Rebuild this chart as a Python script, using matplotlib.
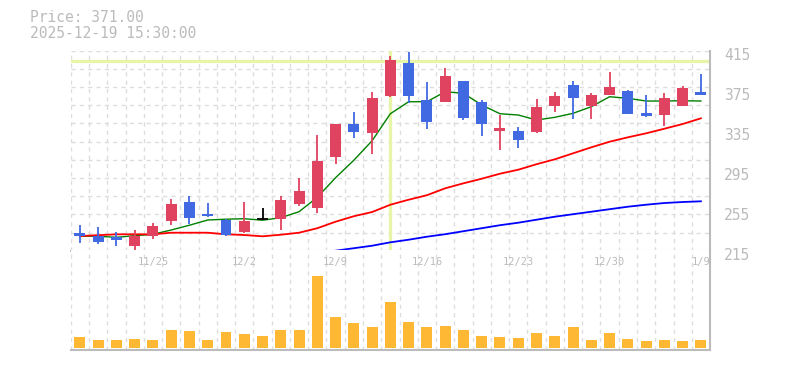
import matplotlib
matplotlib.use('Agg')
import matplotlib.pyplot as plt
import matplotlib.transforms as mtrans
import numpy as np

# daily candles, 11/18 .. 1/9
opens  = [233, 230, 229, 220, 230, 245, 264, 252, 246, 234, 247, 247, 262, 258, 309, 342, 333, 370,
          403, 366, 364, 385, 364, 335, 335, 334, 360, 381, 360, 371, 375, 353, 351, 360, 374]
closes = [230, 224, 226, 230, 240, 262, 248, 250, 231, 245, 247, 266, 275, 305, 342, 334, 368, 406,
          370, 344, 390, 348, 342, 338, 326, 359, 370, 368, 371, 379, 352, 350, 368, 378, 371]
highs  = [240.7, 238.7, 233.7, 235.7, 243, 266.7, 269.7, 262.7, 246.7, 263.7, 258, 270, 288, 330.7,
          342, 353.7, 373.4, 409.7, 414, 383.7, 397.7, 385, 365.7, 350.7, 338.4, 366.7, 373.7, 384.7,
          373, 393.7, 375.4, 370.7, 372.7, 379.7, 391.7]
lows   = [223, 222, 220, 216, 227, 241, 241.7, 248.7, 230, 233, 245.4, 236, 260, 253, 302, 328, 311.7,
          369, 363, 337, 363.7, 346, 330, 316, 318, 333, 354, 347, 346.7, 370.7, 352, 349, 340, 360, 370.4]
volumes = [11, 8, 8, 9, 8, 18, 17, 8, 16, 14, 12, 18, 18, 71, 31, 25, 21, 46, 26, 21, 22, 18, 12, 11,
           10, 15, 12, 21, 8, 15, 9, 7, 8, 7, 8]  # thousands

ma5 = [229.7, 229.4, 228.4, 230, 231.4, 235.7, 240.5, 245.7, 246.5, 247, 245.5, 248, 254, 268.5, 288,
       305.5, 325, 352, 364, 364, 374, 372.4, 360.7, 352, 350.7, 345.7, 348.4, 352.4, 359, 369, 367.4,
       364.7, 364.7, 365, 364.7]
ma25 = [229.7, 230.5, 231.4, 231.4, 231.4, 233, 233, 233, 231.4, 230.7, 229.4, 231, 233, 237.5, 244,
        249.5, 253.7, 261, 266, 270.5, 277.4, 282.4, 287, 292, 296, 301.5, 306.4, 312.4, 318.4, 324,
        328.4, 332.4, 337, 341.7, 347.4]
ma75 = [np.nan] * 14 + [215, 217.5, 220, 223.4, 226, 229, 231.5, 234.5, 237.5, 240.5, 243, 246, 249,
                        251.5, 254, 256.5, 259, 261, 262.7, 263.7, 264.4]

label_idx = [4, 9, 14, 19, 24, 29, 34]
date_labels = ['11/25', '12/2', '12/9', '12/16', '12/23', '12/30', '1/9']
price_ticks = [215, 255, 295, 335, 375, 415]

cross_idx = 17
cross_price = 404.5

up_col = '#e0435f'
down_col = '#4169e1'
txt_col = '#bbbbbb'
grid_col = '#dddddd'
mono = 'DejaVu Sans Mono'

fig = plt.figure(figsize=(7.85, 3.70), dpi=100)
ax = fig.add_axes([0.0901, 0.3224, 0.8144, 0.5405])
ax2 = fig.add_axes([0.0901, 0.054, 0.8144, 0.2703], sharex=ax)

x = np.arange(len(opens))
gkw = dict(color=grid_col, lw=1, ls=(0, (3, 3)), zorder=0)
for a in (ax, ax2):
    for gx in np.arange(-0.5, len(x)):
        a.axvline(gx, **gkw)
for gy in np.linspace(215, 415, 12)[1:]:
    ax.axhline(gy, **gkw)

# crosshair
ax.axhline(cross_price, color='#e6f5a8', lw=2.3, zorder=1)
ax.axvline(cross_idx, color='#e6f5a8', lw=2.3, zorder=1)

# moving averages
ax.plot(x, ma5, color='green', lw=1.0, zorder=3)
ax.plot(x, ma25, color='red', lw=1.3, zorder=3)
ax.plot(x, ma75, color='blue', lw=1.3, zorder=3)

# candles
for i in x:
    o, c, h, l = opens[i], closes[i], highs[i], lows[i]
    col = up_col if c > o else (down_col if c < o else 'black')
    ax.vlines(i, l, h, color=col, lw=1.3, zorder=4)
    if c != o:
        ax.bar(i, abs(c - o), bottom=min(o, c), width=0.6, color=col, zorder=5)
    else:
        ax.hlines(o, i - 0.3, i + 0.3, color=col, lw=1.3, zorder=5)

ax.set_xlim(-0.5, len(x) - 0.5)
ax.set_ylim(215, 415)
ax.yaxis.tick_right()
ax.set_yticks(price_ticks)
ax.tick_params(axis='y', length=0, pad=10, labelsize=10.5, labelcolor=txt_col)
ax.tick_params(axis='x', length=0, labelbottom=False)
off = mtrans.ScaledTranslation(0, -3 / 100, fig.dpi_scale_trans)
for lab in ax.get_yticklabels():
    lab.set_fontfamily(mono)
    lab.set_transform(lab.get_transform() + off)

# volume
ax2.bar(x, volumes, width=0.6, color='#ffb833', zorder=2)
vmax = max(volumes)
ax2.set_ylim(-vmax * 0.028, vmax * 1.37)
ax2.set_yticks([])
ax2.tick_params(axis='x', length=0, labelbottom=False)
for i, lab in zip(label_idx, date_labels):
    ax2.text(i, 0.88, lab, transform=ax2.get_xaxis_transform(), ha='center', va='center',
             fontsize=7.5, color=txt_col, family=mono, zorder=6)

for a in (ax, ax2):
    a.spines['top'].set_visible(False)
    a.spines['left'].set_visible(False)
    for s in ('bottom', 'right'):
        a.spines[s].set_color(txt_col)
        a.spines[s].set_linewidth(1.5)
        a.spines[s].set_zorder(6)

fig.text(30 / 785, 1 - 18 / 370, 'Price: 371.00', color=txt_col, fontsize=10.5, family=mono, va='center')
fig.text(30 / 785, 1 - 33 / 370, '2025-12-19 15:30:00', color=txt_col, fontsize=10.5, family=mono, va='center')

fig.savefig('out.png', dpi=100)
